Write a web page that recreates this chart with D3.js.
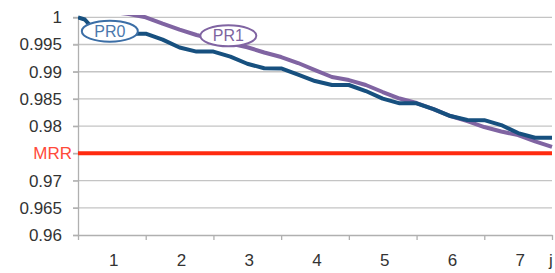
<!DOCTYPE html>
<html>
<head>
<meta charset="utf-8">
<script src="https://cdn.jsdelivr.net/npm/d3@7"></script>
<style>
  body { margin: 0; background: #fff; }
  text { font-family: "Liberation Sans", Arial, sans-serif; }
</style>
</head>
<body>
<svg id="chart" width="555" height="273"></svg>
<script>
const jValues = [0.5, 0.6, 0.75, 1, 1.25, 1.5, 1.75, 2, 2.25, 2.5, 2.75, 3, 3.25, 3.5, 3.75, 4,
  4.25, 4.5, 4.75, 5, 5.25, 5.5, 5.75, 6, 6.25, 6.5, 6.75, 7, 7.25, 7.5];
const pr0 = [1.0, 0.9996, 0.9975, 0.9972, 0.997, 0.997, 0.9959, 0.99445, 0.9937, 0.9937, 0.99276,
  0.99147, 0.99063, 0.9906, 0.98948, 0.98829, 0.98756, 0.98756, 0.98645, 0.98507, 0.98419,
  0.98419, 0.98314, 0.98186, 0.98112, 0.9811, 0.9802, 0.97873, 0.97787, 0.97787];
const pr1 = [1.002, 1.0018, 1.0015, 1.001, 1.0006, 1.0, 0.99882, 0.99772, 0.99675, 0.996, 0.9952,
  0.9945, 0.99353, 0.9927, 0.9916, 0.99031, 0.98903, 0.98847, 0.98756, 0.98627, 0.98507,
  0.98425, 0.98314, 0.98186, 0.98094, 0.97984, 0.97901, 0.97836, 0.9772, 0.9762];
const mrr = 0.975;
const categories = ["1", "2", "3", "4", "5", "6", "7"];
const yTicks = [0.96, 0.965, 0.97, 0.975, 0.98, 0.985, 0.99, 0.995, 1];
const seriesLabels = [
  { name: "PR0", j: 0.97, v: 0.99745, color: "#3b6ea6", text: "#4a78ad" },
  { name: "PR1", j: 2.72, v: 0.9966, color: "#8064a2", text: "#7d64a0" }
];

const svg = d3.select("#chart");
const plotLeft = 78, plotRight = 552, plotTop = 17.3, plotBottom = 235;

const x = d3.scaleLinear().domain([0.5, 7.5]).range([plotLeft, plotRight]);
const y = d3.scaleLinear().domain([0.96, 1]).range([plotBottom, plotTop]);

// gridlines
svg.append("g")
  .selectAll("line")
  .data(yTicks.filter(t => t > 0.96))
  .join("line")
  .attr("x1", plotLeft - 5).attr("x2", plotRight)
  .attr("y1", d => y(d)).attr("y2", d => y(d))
  .attr("stroke", "#c4c4c4").attr("stroke-width", 1.3);

// y axis
const yAxis = svg.append("g")
  .attr("transform", `translate(${plotLeft},0)`)
  .call(d3.axisLeft(y).tickValues(yTicks).tickSize(5).tickFormat(d => d === mrr ? "" : d3.format("")(+d.toFixed(3))));
yAxis.select(".domain").attr("stroke", "#b0b0b0").attr("stroke-width", 1.3);
yAxis.selectAll(".tick line").attr("stroke", "#b0b0b0").attr("stroke-width", 1.3);
yAxis.selectAll(".tick text")
  .attr("x", -16)
  .attr("font-size", 17)
  .attr("fill", "#333");

// x axis
const xAxis = svg.append("g")
  .attr("transform", `translate(0,${plotBottom})`)
  .call(d3.axisBottom(x).tickValues([0.5, 1.5, 2.5, 3.5, 4.5, 5.5, 6.5, 7.5]).tickSize(5).tickSizeOuter(0).tickFormat(""));
xAxis.select(".domain").attr("stroke", "#b0b0b0").attr("stroke-width", 1.3);
xAxis.selectAll(".tick line").attr("stroke", "#b0b0b0").attr("stroke-width", 1.3);

svg.append("g")
  .selectAll("text")
  .data(categories)
  .join("text")
  .attr("x", (d, i) => x(i + 1) + 2)
  .attr("y", 266)
  .attr("text-anchor", "middle")
  .attr("font-size", 17)
  .attr("fill", "#333")
  .text(d => d);

svg.append("text")
  .attr("x", plotRight - 1)
  .attr("y", 266)
  .attr("text-anchor", "middle")
  .attr("font-size", 17)
  .attr("fill", "#333")
  .text("j");

// clip for the series
svg.append("clipPath").attr("id", "plot")
  .append("rect").attr("x", plotLeft).attr("y", 15).attr("width", plotRight - plotLeft + 4).attr("height", plotBottom - 15);

const line = d3.line().x(d => x(d[0])).y(d => y(d[1]));
const plot = svg.append("g").attr("clip-path", "url(#plot)");

plot.append("path")
  .datum(jValues.map((j, i) => [j, pr1[i]]))
  .attr("d", line)
  .attr("fill", "none")
  .attr("stroke", "#8064a2")
  .attr("stroke-width", 4)
  .attr("stroke-linejoin", "round");

plot.append("path")
  .datum(jValues.map((j, i) => [j, pr0[i]]))
  .attr("d", line)
  .attr("fill", "none")
  .attr("stroke", "#17507f")
  .attr("stroke-width", 4)
  .attr("stroke-linejoin", "round");

// MRR line
svg.append("line")
  .attr("x1", plotLeft).attr("x2", plotRight)
  .attr("y1", y(mrr)).attr("y2", y(mrr))
  .attr("stroke", "#ff2a10").attr("stroke-width", 4);

svg.append("text")
  .attr("x", 72)
  .attr("y", y(mrr) + 6)
  .attr("text-anchor", "end")
  .attr("font-size", 17)
  .attr("fill", "#ff4a3a")
  .text("MRR");

// series labels
const lab = svg.append("g")
  .selectAll("g")
  .data(seriesLabels)
  .join("g")
  .attr("transform", d => `translate(${x(d.j)},${y(d.v)})`);
lab.append("ellipse")
  .attr("rx", 28).attr("ry", 10.5)
  .attr("fill", "#fff")
  .attr("stroke", d => d.color)
  .attr("stroke-width", 2);
lab.append("text")
  .attr("text-anchor", "middle")
  .attr("y", 5.5)
  .attr("font-size", 16)
  .attr("fill", d => d.text)
  .text(d => d.name);
</script>
</body>
</html>
